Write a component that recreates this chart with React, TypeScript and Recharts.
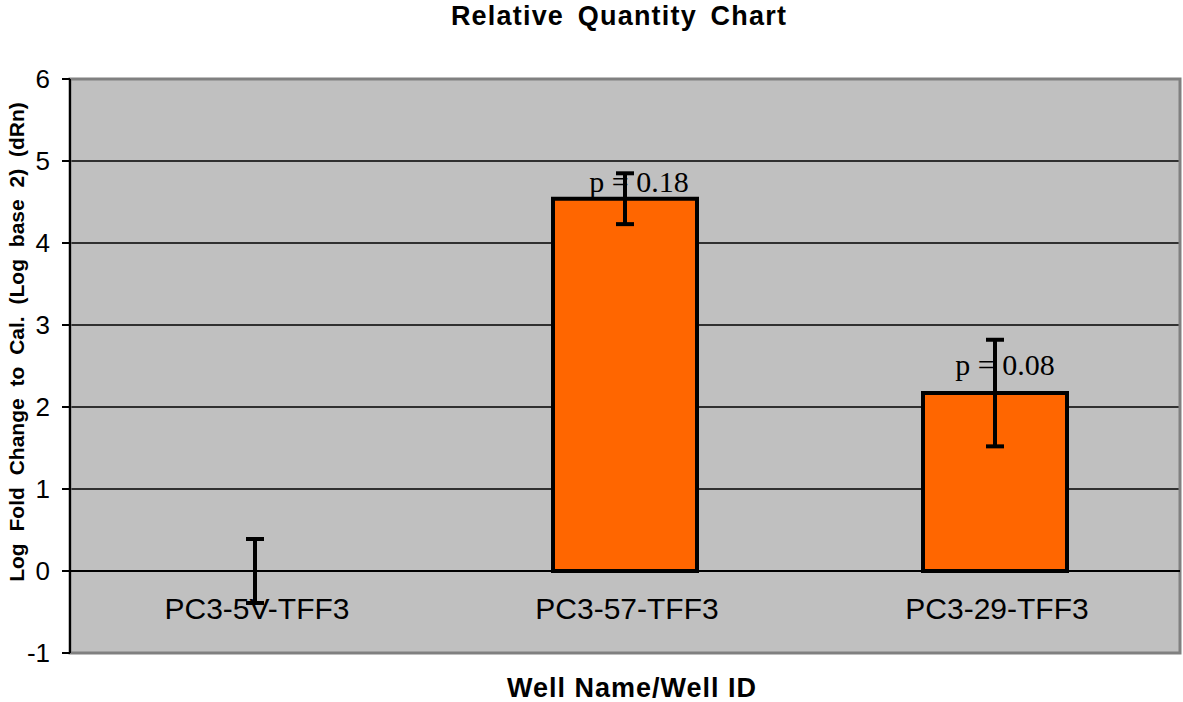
import React from 'react';
import {
    ComposedChart, Bar, Scatter, XAxis, YAxis, CartesianGrid, ErrorBar,
    ReferenceLine, ReferenceArea, LabelList,
} from 'recharts';

const wells = ['PC3-5V-TFF3', 'PC3-57-TFF3', 'PC3-29-TFF3'];
const logFoldChange = [0, 4.54, 2.17];
const errorRange = [0.39, 0.31, 0.65];
const pValues = ['', 'p = 0.18', 'p = 0.08'];
const yTicks = [-1, 0, 1, 2, 3, 4, 5, 6];

const data = wells.map((name, i) => ({
    name,
    value: logFoldChange[i],
    err: errorRange[i],
    p: pValues[i],
}));

// the p labels were placed by hand in the original, so nudge each one
const pOffsets = [
    { dx: 0, dy: 0 },
    { dx: 14, dy: -7 },
    { dx: 10, dy: -18 },
];

const CategoryTick = (props: any) => {
    const { x, y, payload } = props;
    return (
        <text x={x + 2} y={y - 34} textAnchor='middle' fontFamily='"Liberation Sans", Arial' fontSize={30} fill='#000'>
            {payload.value}
        </text>
    );
};

const PLabel = (props: any) => {
    const { x, y, width, value } = props;
    const i = pValues.indexOf(value);
    if (!value || i < 0) return null;
    const off = pOffsets[i];
    return (
        <text x={x + width / 2 + off.dx} y={y + off.dy} textAnchor='middle'
            fontFamily='"Liberation Serif", "Times New Roman", serif' fontSize={30} fill='#000'>
            {value}
        </text>
    );
};

const App = () => {
    return (
        <div style={{ position: 'absolute', left: 0, top: 0, width: 1183, height: 702, background: '#fff' }}>
            <ComposedChart width={1183} height={702} data={data}
                margin={{ top: 79, right: 3, bottom: 19, left: 0 }}>
                <CartesianGrid vertical={false} stroke='#000' strokeWidth={1.5} fill='#c0c0c0' />
                <ReferenceArea y1={-1} y2={6} fill='none' stroke='#808080' strokeWidth={3} ifOverflow='visible' />
                <XAxis dataKey='name' height={30} axisLine={false} tickLine={false} tickSize={0} tickMargin={0}
                    tick={<CategoryTick />} interval={0} />
                <YAxis width={70} domain={[-1, 6]} ticks={yTicks} interval={0}
                    axisLine={{ stroke: '#000', strokeWidth: 2 }}
                    tickLine={{ stroke: '#000', strokeWidth: 2 }} tickSize={8} tickMargin={12}
                    tick={{ fill: '#000', fontSize: 26, fontFamily: '"Liberation Sans", Arial' }} />
                <ReferenceLine y={0} stroke='#000' strokeWidth={2} />
                <Bar dataKey='value' fill='#ff6600' stroke='#000' strokeWidth={4} barSize={144}
                    isAnimationActive={false}>
                    <LabelList dataKey='p' content={<PLabel />} />
                </Bar>
                <Scatter dataKey='value' isAnimationActive={false} shape={() => <g />}>
                    <ErrorBar dataKey='err' width={9} stroke='#000' strokeWidth={4} direction='y' />
                </Scatter>
            </ComposedChart>
            <svg width={1183} height={702} style={{ position: 'absolute', left: 0, top: 0, pointerEvents: 'none' }}>
                <text x={619} y={25} textAnchor='middle' fontFamily='"Liberation Sans", Arial' fontWeight='bold'
                    fontSize={27} style={{ letterSpacing: 1.2, wordSpacing: 5 }}>Relative Quantity Chart</text>
                <text x={632} y={697} textAnchor='middle' fontFamily='"Liberation Sans", Arial' fontWeight='bold'
                    fontSize={27} style={{ letterSpacing: 1 }}>Well Name/Well ID</text>
                <text transform='translate(24, 342) rotate(-90)' textAnchor='middle'
                    fontFamily='"Liberation Sans", Arial' fontWeight='bold' fontSize={21}
                    style={{ wordSpacing: 6 }}>Log Fold Change to Cal. (Log base 2) (dRn)</text>
            </svg>
        </div>
    );
};

export default App;
